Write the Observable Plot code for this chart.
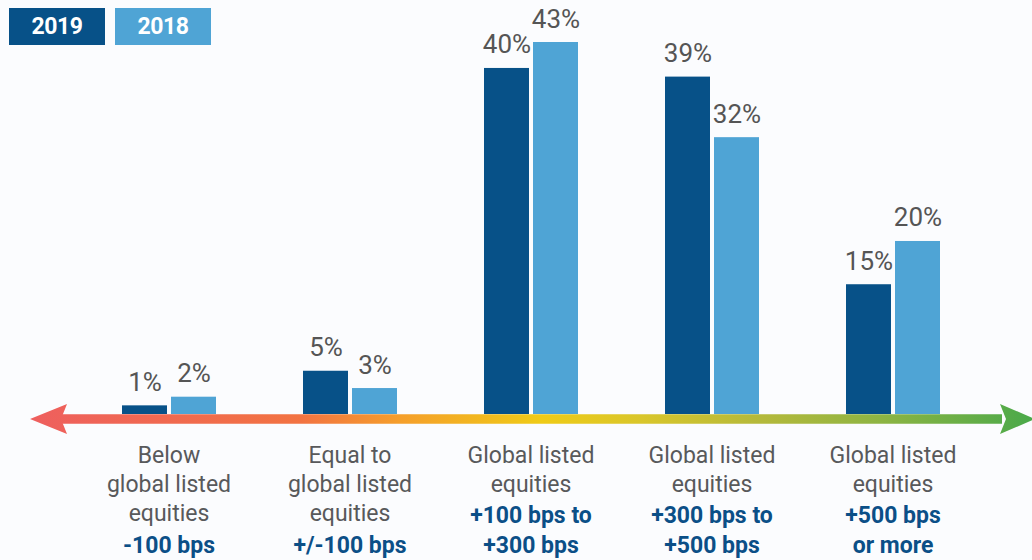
<!DOCTYPE html>
<html>
<head>
<meta charset="utf-8">
<script src="https://cdn.jsdelivr.net/npm/d3@7"></script>
<script src="https://cdn.jsdelivr.net/npm/@observablehq/plot@0.6"></script>
<style>
  html, body { margin: 0; padding: 0; background: #fbfcfe; }
  #wrap { position: relative; width: 1032px; height: 560px; overflow: hidden; font-family: Roboto, "Liberation Sans", sans-serif; }
  .legend { position: absolute; top: 8px; height: 37px; width: 96px; color: #fff; font-weight: 700; font-size: 23px; line-height: 37px; text-align: center; letter-spacing: -0.5px; }
</style>
</head>
<body>
<div id="wrap"></div>
<script>
// ---- data ----
const categories = ["below", "equal", "p100", "p300", "p500"];
const years = ["2019", "2018"];
const values2019 = [1, 5, 40, 39, 15];
const values2018 = [2, 3, 43, 32, 20];
const grayLabels = [
  "Below\nglobal listed\nequities",
  "Equal to\nglobal listed\nequities",
  "Global listed\nequities",
  "Global listed\nequities",
  "Global listed\nequities"
];
const blueLabels = [
  "-100 bps",
  "+/-100 bps",
  "+100 bps to\n+300 bps",
  "+300 bps to\n+500 bps",
  "+500 bps\nor more"
];
const colors = {"2019": "#075188", "2018": "#4fa4d5"};

const bars = [];
categories.forEach((c, i) => {
  bars.push({cat: c, year: "2019", value: values2019[i]});
  bars.push({cat: c, year: "2018", value: values2018[i]});
});
const labels = categories.map((c, i) => {
  const nGray = grayLabels[i].split("\n").length;
  return {cat: c, gray: grayLabels[i], blue: "\n".repeat(nGray) + blueLabels[i]};
});

const W = 1032, H = 560;
const font = "Roboto, 'Liberation Sans', sans-serif";

const chart = Plot.plot({
  width: W,
  height: H,
  marginLeft: 78,
  marginRight: 49,
  marginTop: 42,
  marginBottom: 146,
  style: {background: "transparent", fontFamily: font, overflow: "visible"},
  fx: {domain: categories, padding: 0, axis: null, label: null},
  x: {domain: years, paddingInner: 0.086, paddingOuter: 0.88, axis: null, label: null},
  y: {domain: [0, 43], axis: null, label: null},
  color: {domain: years, range: years.map(y => colors[y])},
  marks: [
    Plot.barY(bars, {fx: "cat", x: "year", y: "value", fill: "year"}),
    Plot.text(bars, {fx: "cat", x: "year", y: "value", text: d => d.value + "%", dy: -15, lineAnchor: "bottom", fontSize: 26, fill: "#555555", letterSpacing: -1.2}),
    Plot.text(labels, {fx: "cat", text: "gray", frameAnchor: "bottom", lineAnchor: "top", dy: 27.5, fontSize: 23, lineHeight: 1.26, fill: "#58595b", letterSpacing: -1}),
    Plot.text(labels, {fx: "cat", text: "blue", frameAnchor: "bottom", lineAnchor: "top", dy: 27.5, fontSize: 23, lineHeight: 1.3, fill: "#0b4f87", fontWeight: 700, letterSpacing: -0.5})
  ]
});

// gradient arrow along the baseline
const svg = d3.select(chart);
const y0 = chart.scale("y").apply(0) + 5;
const defs = svg.insert("defs", ":first-child");
const grad = defs.append("linearGradient").attr("id", "arrowGrad")
  .attr("gradientUnits", "userSpaceOnUse").attr("x1", 30).attr("x2", W).attr("y1", 0).attr("y2", 0);
[[0, "#ee5f5e"], [0.27, "#f27342"], [0.37, "#f59f2b"], [0.51, "#efcb17"], [0.61, "#d9c62b"], [0.73, "#b4b93b"], [0.85, "#8db443"], [1, "#4aa94a"]]
  .forEach(([o, c]) => grad.append("stop").attr("offset", o).attr("stop-color", c));
const g = svg.append("g").attr("fill", "url(#arrowGrad)");
g.append("rect").attr("x", 60).attr("y", y0 - 4.75).attr("width", W - 30 - 60).attr("height", 9.5);
g.append("path").attr("d", `M30,${y0} L67,${y0 - 15} L61,${y0} L67,${y0 + 15} Z`);
g.append("path").attr("d", `M${W + 3},${y0} L${W - 32},${y0 - 15} L${W - 26},${y0} L${W - 32},${y0 + 15} Z`);

const wrap = document.getElementById("wrap");
wrap.appendChild(chart);
years.forEach((y, i) => {
  const d = document.createElement("div");
  d.className = "legend";
  d.style.left = (9 + i * 106) + "px";
  d.style.background = colors[y];
  d.textContent = y;
  wrap.appendChild(d);
});
</script>
</body>
</html>
